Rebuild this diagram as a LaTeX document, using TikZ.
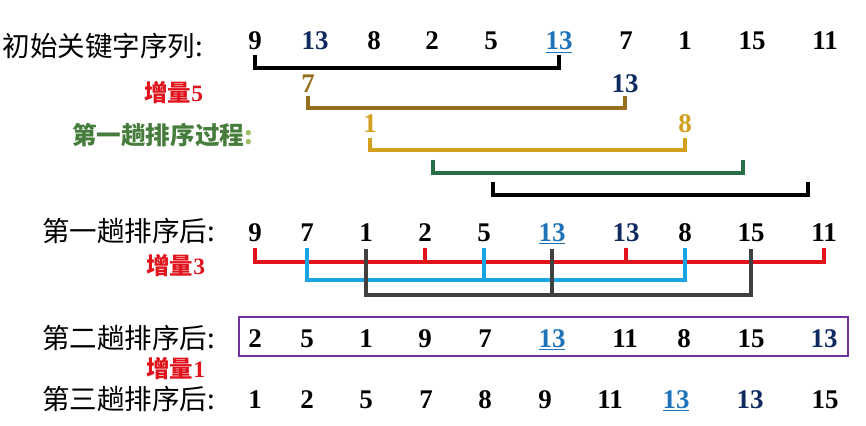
\documentclass[tikz,border=0pt]{standalone}
\usepackage{fontspec}
\setmainfont{Liberation Serif}
\newfontfamily\cjk{Noto Sans CJK SC}
\usetikzlibrary{positioning}
\definecolor{navy}{RGB}{15,42,95}
\definecolor{ublue}{RGB}{30,115,185}
\definecolor{brownc}{RGB}{150,110,30}
\definecolor{goldc}{RGB}{210,160,30}
\definecolor{greenc}{RGB}{40,110,70}
\definecolor{passgreen}{RGB}{70,125,60}
\definecolor{lightgreen}{RGB}{160,190,100}
\definecolor{incred}{RGB}{225,20,30}
\definecolor{cyanc}{RGB}{25,165,225}
\definecolor{grayc}{RGB}{64,64,64}
\definecolor{purplec}{RGB}{112,48,160}

\begin{document}
\begin{tikzpicture}
    [x=0.03cm, y=-0.03cm, outer sep=0pt,
     num/.style={font=\fontsize{23}{27}\selectfont\bfseries, anchor=base,
       inner sep=0pt},
     rowlabel/.style={font=\cjk\fontsize{23.5}{27}\selectfont, anchor=east,
       inner sep=0pt},
     steplabel/.style={font=\fontsize{20}{23}\selectfont\bfseries, text=incred,
       anchor=east, inner sep=0pt},
     passlabel/.style={font=\cjk\fontsize{21}{25}\selectfont\bfseries,
       text=passgreen, anchor=east, inner sep=0pt},
     bracket/.style={line width=2.8pt}]
    \useasboundingbox (0,0) rectangle (866,426);

    % labels
    \node[rowlabel] (start) at (203,46) {初始关键字序列:};
    \node[steplabel] (inc5) at (203,93) {{\cjk 增量}5};
    \node[passlabel] (pass1) at (253,135) {第一趟排序过程\textcolor{lightgreen}{:}};
    \node[rowlabel] (after1) at (215,231) {第一趟排序后:};
    \node[steplabel] (inc3) at (205,266) {{\cjk 增量}3};
    \node[rowlabel] (after2) at (215,338) {第二趟排序后:};
    \node[steplabel] (inc1) at (205,369) {{\cjk 增量}1};
    \node[rowlabel] (after3) at (215,399) {第三趟排序后:};

    % initial keys
    \foreach \v/\x/\c [count=\i] in {9/255/black, 13/315/navy, 8/374/black,
      2/432/black, 5/491/black, {\underline{13}}/559/ublue, 7/626/black,
      1/685/black, 15/752/black, 11/825/black}
      \node[num, text=\c] (a\i) at (\x,50) {\v};

    % first pass, increment 5
    \node[num, text=brownc] (p7) at (308,93) {7};
    \node[num, text=navy] (p13) at (625,93) {13};
    \node[num, text=goldc] (q1) at (370,133) {1};
    \node[num, text=goldc] (q8) at (685,133) {8};
    \coordinate (g1) at (433,160);
    \coordinate (g2) at (743,160);
    \coordinate (k1) at (493,182);
    \coordinate (k2) at (808,182);

    \draw[bracket, black] (a1 |- 0,55) -- (a1 |- 0,68) -| (a6 |- 0,55);
    \draw[bracket, brownc] (p7 |- 0,96) -- (p7 |- 0,108) -| (p13 |- 0,96);
    \draw[bracket, goldc] (q1 |- 0,138) -- (q1 |- 0,150) -| (q8 |- 0,138);
    \draw[bracket, greenc] (g1) -- (g1 |- 0,173) -| (g2);
    \draw[bracket, black] (k1) -- (k1 |- 0,195) -| (k2);

    % after first pass
    \foreach \v/\x/\c [count=\i] in {9/255/black, 7/307/black, 1/366/black,
      2/425/black, 5/484/black, {\underline{13}}/552/ublue, 13/626/navy,
      8/685/black, 15/751/black, 11/824/black}
      \node[num, text=\c] (b\i) at (\x,241) {\v};

    % increment 3
    \draw[bracket, incred] (b1 |- 0,248) -- (b1 |- 0,262) -| (b10 |- 0,248);
    \foreach \i in {4,7}
      \draw[bracket, incred] (b\i |- 0,248) -- (b\i |- 0,262);
    \draw[bracket, cyanc] (b2 |- 0,248) -- (b2 |- 0,280) -| (b8 |- 0,248);
    \draw[bracket, cyanc] (b5 |- 0,248) -- (b5 |- 0,280);
    \draw[bracket, grayc] (b3 |- 0,249) -- (b3 |- 0,295) -| (b9 |- 0,249);
    \draw[bracket, grayc] (b6 |- 0,249) -- (b6 |- 0,295);

    % after second pass
    \foreach \v/\x/\c [count=\i] in {2/255/black, 5/307/black, 1/366/black,
      9/425/black, 7/485/black, {\underline{13}}/552/ublue, 11/625/black,
      8/684/black, 15/751/black, 13/824/navy}
      \node[num, text=\c] (c\i) at (\x,347) {\v};
    \draw[purplec, line width=1.6pt] (239,317) rectangle (848,356);

    % after third pass
    \foreach \v/\x/\c [count=\i] in {1/255/black, 2/307/black, 5/366/black,
      7/426/black, 8/485/black, 9/545/black, 11/610/black,
      {\underline{13}}/676/ublue, 13/750/navy, 15/825/black}
      \node[num, text=\c] (d\i) at (\x,408) {\v};
\end{tikzpicture}
\end{document}
